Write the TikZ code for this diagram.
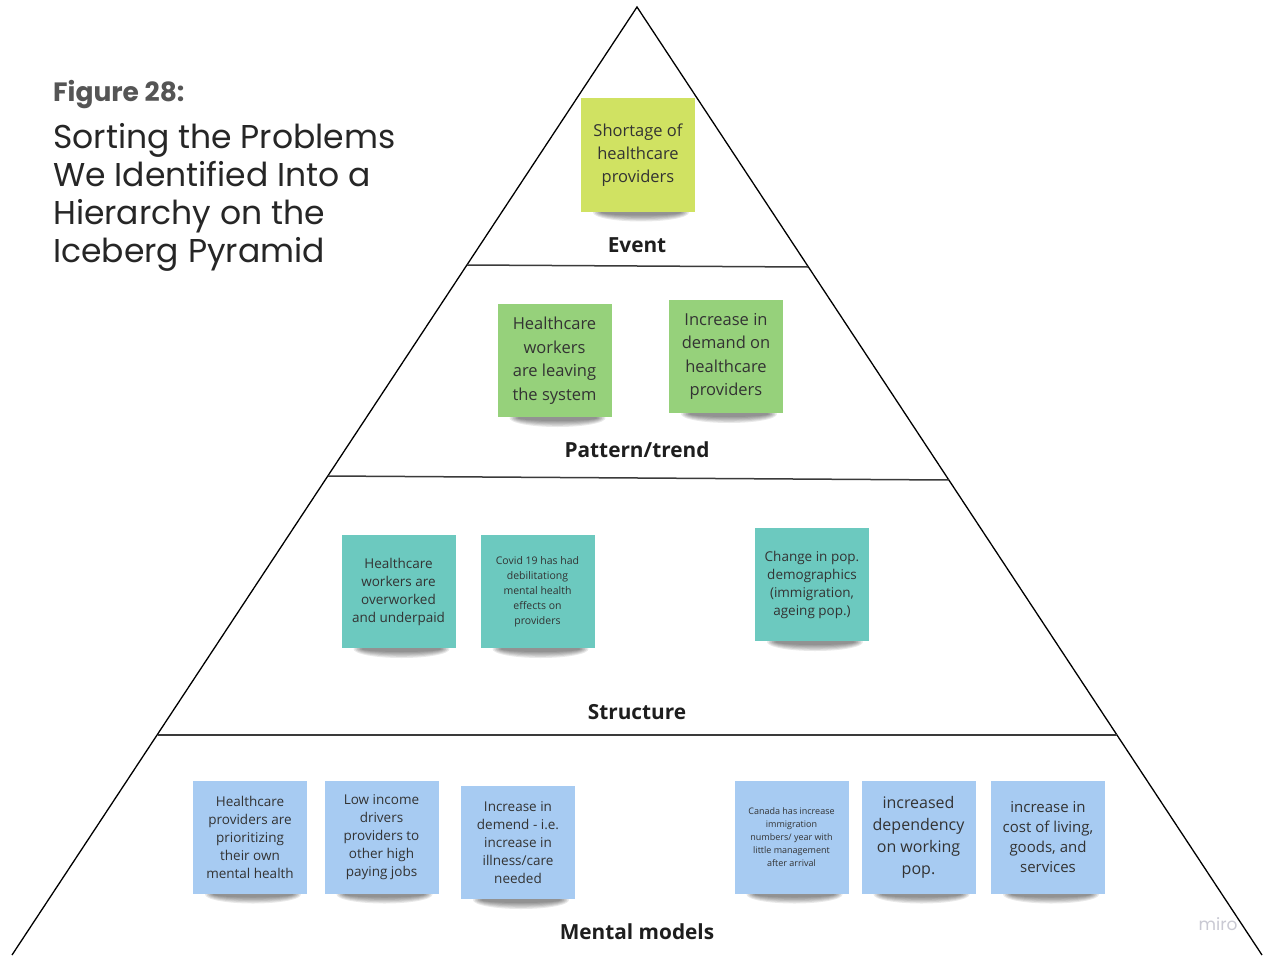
\documentclass[tikz,border=0pt]{standalone}
\usepackage{fontspec}
\setmainfont{Open Sans}
\newfontfamily\titlefont{Poppins}

\definecolor{eventnote}{HTML}{D0E262}
\definecolor{patternnote}{HTML}{96D17B}
\definecolor{structnote}{HTML}{6CC9BF}
\definecolor{modelnote}{HTML}{A7CBF2}
\definecolor{notetext}{HTML}{333333}
\definecolor{levelline}{HTML}{3A3A3A}
\definecolor{titlegray}{HTML}{555555}
\definecolor{titledark}{HTML}{262626}
\definecolor{labeldark}{HTML}{1E1E1E}
\definecolor{logogray}{HTML}{C9C9D3}

% soft shadow under a sticky note: centre x, bottom edge y, note width
\newcommand\noteshadow[3]{%
  \foreach \k in {0,...,5}{%
    \pgfmathsetmacro\rx{#3/2-9-1.6*\k}%
    \pgfmathsetmacro\ry{9-1.2*\k}%
    \fill[black, opacity=0.085] ({#1+3},{#2+1.5}) ellipse [x radius=\rx pt, y radius=\ry pt];
  }%
}
% sticky note: name, centre x, centre y, colour, font, text
\newcommand\stickynote[6]{%
  \noteshadow{#2}{#3+56}{114}
  \node[note, fill=#4, font=#5] (#1) at (#2,#3) {#6};
}

\begin{document}
\begin{tikzpicture}[x=1pt, y=-1pt,
  note/.style={minimum width=114pt, minimum height=113pt, inner sep=0pt,
    align=center, text=notetext},
  level/.style={font=\bfseries\fontsize{20.8}{24}\selectfont, text=labeldark, inner sep=0pt},
  edge/.style={draw=black, line width=1.3pt},
  divider/.style={draw=levelline, line width=1.5pt},
  titleline/.style={anchor=base west, inner sep=0pt, text=titledark,
    font=\titlefont\fontsize{33}{38}\selectfont}
]
\useasboundingbox (0,0) rectangle (1265,955);
\fill[white] (0,0) rectangle (1265,955);

% pyramid outline
\coordinate (apex) at (637,7);
\coordinate (baseL) at (12,955);
\coordinate (baseR) at (1262,955);
\draw[edge] (baseL) -- (apex) -- (baseR);

% level dividers
\coordinate (d1L) at (467,265); \coordinate (d1R) at (808,267);
\coordinate (d2L) at (328,476); \coordinate (d2R) at (949,480);
\coordinate (d3L) at (158,735); \coordinate (d3R) at (1117,735);
\draw[divider] (d1L) -- (d1R);
\draw[divider] (d2L) -- (d2R);
\draw[divider] (d3L) -- (d3R);

% title
\node[anchor=base west, inner sep=0pt, text=titlegray,
  font=\titlefont\bfseries\fontsize{26.5}{30}\selectfont] (fig) at (53,102) {Figure 28:};
\node[titleline] (title1) at (53,148) {Sorting the Problems};
\node[titleline] (title2) at (53,186) {We Identified Into a};
\node[titleline] (title3) at (53,224) {Hierarchy on the};
\node[titleline] (title4) at (53,262) {Iceberg Pyramid};

% Event
\stickynote{shortage}{638}{155}{eventnote}{\fontsize{16.5}{23}\selectfont}{Shortage of\\healthcare\\providers}
\node[level] (event) at (637,245) {Event};

% Pattern/trend
\stickynote{leaving}{554.5}{360.5}{patternnote}{\fontsize{16.5}{23.5}\selectfont}{Healthcare\\workers\\are leaving\\the system}
\stickynote{demand}{726}{356.5}{patternnote}{\fontsize{16.5}{23.5}\selectfont}{Increase in\\demand on\\healthcare\\providers}
\node[level] (pattern) at (637,450) {Pattern/trend};

% Structure
\stickynote{overworked}{398.5}{591.5}{structnote}{\fontsize{13.5}{18}\selectfont}{Healthcare\\workers are\\overworked\\and underpaid}
\stickynote{covid}{537.5}{591.5}{structnote}{\fontsize{10.5}{15}\selectfont}{Covid 19 has had\\debilitationg\\mental health\\effects on\\providers}
\stickynote{demographics}{812}{584.5}{structnote}{\fontsize{13.5}{18}\selectfont}{Change in pop.\\demographics\\(immigration,\\ageing pop.)}
\node[level] (structure) at (637,712) {Structure};

% Mental models
\stickynote{prioritizing}{250}{837}{modelnote}{\fontsize{13.5}{18}\selectfont}{Healthcare\\providers are\\prioritizing\\their own\\mental health}
\stickynote{lowincome}{381.5}{837}{modelnote}{\fontsize{13.5}{18}\selectfont}{Low income\\drivers\\providers to\\other high\\paying jobs}
\stickynote{demend}{518}{842.5}{modelnote}{\fontsize{13.5}{18}\selectfont}{Increase in\\demend - i.e.\\increase in\\illness/care\\needed}
\stickynote{immigration}{791.5}{837}{modelnote}{\fontsize{9}{13}\selectfont}{Canada has increase\\immigration\\numbers/ year with\\little management\\after arrival}
\stickynote{dependency}{918.5}{837}{modelnote}{\fontsize{16}{22}\selectfont}{increased\\dependency\\on working\\pop.}
\stickynote{costliving}{1048}{837}{modelnote}{\fontsize{15}{20}\selectfont}{increase in\\cost of living,\\goods, and\\services}
\node[level] (models) at (637,932) {Mental models};

% board watermark
\node[text=logogray, font=\titlefont\fontsize{17}{20}\selectfont, inner sep=0pt] (logo) at (1218,924) {miro};
\end{tikzpicture}
\end{document}
